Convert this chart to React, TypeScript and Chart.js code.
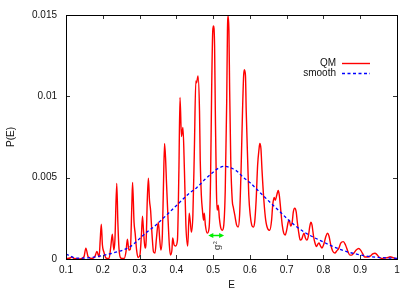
import { useEffect, useRef } from 'react';
import { Chart, registerables } from 'chart.js';

Chart.register(...registerables);

const qmE = [
  0.100, 0.111, 0.116, 0.122, 0.138, 0.149, 0.154, 0.160, 0.171, 0.179, 0.184, 0.190, 0.193, 0.196, 0.199,
  0.203, 0.209, 0.217, 0.222, 0.226, 0.230, 0.233, 0.238, 0.241, 0.244, 0.249, 0.258, 0.263, 0.267, 0.271,
  0.275, 0.279, 0.281, 0.285, 0.288, 0.292, 0.296, 0.301, 0.305, 0.308, 0.311, 0.315, 0.318, 0.321, 0.324,
  0.327, 0.330, 0.334, 0.338, 0.342, 0.346, 0.351, 0.355, 0.358, 0.362, 0.365, 0.368, 0.371, 0.373, 0.377,
  0.381, 0.384, 0.388, 0.390, 0.394, 0.398, 0.403, 0.407, 0.410, 0.414, 0.418, 0.422, 0.426, 0.431, 0.435,
  0.438, 0.441, 0.445, 0.449, 0.453, 0.455, 0.459, 0.463, 0.465, 0.468, 0.471, 0.474, 0.476, 0.479, 0.484,
  0.489, 0.493, 0.496, 0.499, 0.501, 0.504, 0.506, 0.509, 0.511, 0.514, 0.517, 0.521, 0.525, 0.529, 0.533,
  0.537, 0.539, 0.541, 0.543, 0.545, 0.548, 0.552, 0.555, 0.559, 0.564, 0.568, 0.572, 0.576, 0.580, 0.583,
  0.585, 0.588, 0.590, 0.594, 0.597, 0.601, 0.605, 0.609, 0.613, 0.617, 0.621, 0.625, 0.627, 0.630, 0.633,
  0.638, 0.643, 0.649, 0.654, 0.659, 0.662, 0.666, 0.669, 0.673, 0.677, 0.680, 0.684, 0.688, 0.692, 0.696,
  0.700, 0.704, 0.707, 0.711, 0.715, 0.718, 0.722, 0.726, 0.729, 0.733, 0.737, 0.741, 0.747, 0.751, 0.755,
  0.759, 0.763, 0.766, 0.769, 0.773, 0.777, 0.781, 0.785, 0.788, 0.792, 0.796, 0.801, 0.807, 0.811, 0.815,
  0.820, 0.825, 0.831, 0.836, 0.842, 0.847, 0.854, 0.860, 0.867, 0.872, 0.877, 0.883, 0.889, 0.896, 0.901,
  0.907, 0.912, 0.921, 0.929, 0.934, 0.940, 0.945, 0.952, 0.959, 0.967, 0.976, 0.981, 0.988, 0.995, 1.000,
];

const qmP = [
  0.00003, 0.00006, 0.00012, 0.00003, 0.00001, 0.00015, 0.00067, 0.00015, 0.00003, 0.00018, 0.00046, 0.00012, 0.00116, 0.00214, 0.00086,
  0.00043, 0.00006, 0.00003, 0.0008, 0.00153, 0.00055, 0.00116, 0.00465, 0.00226, 0.00067, 0.00006, 0.00003, 0.00043, 0.00122, 0.00055,
  0.00061, 0.0033, 0.00471, 0.00226, 0.00159, 0.00055, 0.00009, 0.00024, 0.00147, 0.00263, 0.00165, 0.00067, 0.00116, 0.00361, 0.00496,
  0.00361, 0.003, 0.00147, 0.00043, 0.00037, 0.00129, 0.00226, 0.00116, 0.00055, 0.00147, 0.00453, 0.0071, 0.00606, 0.00483, 0.00269,
  0.00086, 0.00024, 0.00055, 0.00129, 0.00086, 0.0008, 0.00116, 0.00545, 0.00993, 0.00753, 0.00808, 0.00545, 0.00208, 0.0008, 0.00282,
  0.00226, 0.00165, 0.00269, 0.00667, 0.01095, 0.01083, 0.01126, 0.00912, 0.00606, 0.00392, 0.003, 0.00239, 0.00282, 0.00208, 0.00159,
  0.0019, 0.00483, 0.01034, 0.01401, 0.01432, 0.0131, 0.00912, 0.00422, 0.003, 0.0033, 0.00251, 0.0019, 0.00177, 0.00208, 0.00422,
  0.00973, 0.01401, 0.01493, 0.01401, 0.01034, 0.00606, 0.00361, 0.00318, 0.00269, 0.00208, 0.00196, 0.00269, 0.00545, 0.00912, 0.01126,
  0.01163, 0.01126, 0.00912, 0.00606, 0.00392, 0.00269, 0.00208, 0.00196, 0.00226, 0.00361, 0.00575, 0.00679, 0.0071, 0.00679, 0.00545,
  0.00361, 0.00239, 0.00184, 0.00177, 0.00239, 0.0033, 0.00379, 0.00361, 0.00392, 0.00422, 0.00392, 0.003, 0.00208, 0.00159, 0.00147,
  0.00177, 0.00226, 0.00239, 0.00202, 0.00226, 0.00288, 0.00312, 0.00288, 0.00226, 0.00159, 0.00116, 0.00122, 0.00159, 0.00129, 0.00116,
  0.00141, 0.00202, 0.00226, 0.00208, 0.00141, 0.00098, 0.00077, 0.00092, 0.00098, 0.0008, 0.00067, 0.00092, 0.00141, 0.00159, 0.00141,
  0.00086, 0.00049, 0.00037, 0.00049, 0.00067, 0.00098, 0.00107, 0.00086, 0.00043, 0.00024, 0.00024, 0.00037, 0.00055, 0.00065, 0.00055,
  0.00031, 0.00012, 0.00012, 0.00021, 0.00031, 0.00035, 0.00028, 0.00009, 0.00004, 0.00006, 0.00009, 0.00014, 0.00009, 0.00003, 0.00001,
];

const smoothE = [0.1, 0.13, 0.16, 0.192, 0.233, 0.274, 0.317, 0.34, 0.364, 0.387, 0.41, 0.433, 0.456, 0.478, 0.5, 0.516, 0.532, 0.548, 0.565, 0.581, 0.6, 0.627, 0.654, 0.682, 0.705, 0.727, 0.75, 0.771, 0.795, 0.817, 0.84, 0.863, 0.89, 0.917, 0.955, 1.0];
const smoothP = [0.0003, 0.00005, 0.00007, 0.00018, 0.0004, 0.00075, 0.0016, 0.002, 0.0025, 0.003, 0.0035, 0.004, 0.0044, 0.0049, 0.00534, 0.0056, 0.0057, 0.0056, 0.0054, 0.00504, 0.0047, 0.0041, 0.0035, 0.0029, 0.0024, 0.00198, 0.00162, 0.00136, 0.0011, 0.00086, 0.00064, 0.00045, 0.0003, 0.00018, 0.00009, 0.00004];

const xTicks = [0.1, 0.2, 0.3, 0.4, 0.5, 0.6, 0.7, 0.8, 0.9, 1.0];
const xTickLabels = ['0.1', '0.2', '0.3', '0.4', '0.5', '0.6', '0.7', '0.8', '0.9', '1'];
const yTicks = [0, 0.005, 0.01, 0.015];
const yTickLabels = ['0', '0.005', '0.01', '0.015'];

const seriesNames = ['QM', 'smooth'];
const arrowE = [0.487, 0.53];
const arrowP = 0.00147;
const arrowLabel = 'g²';

const FONT = "'Liberation Sans', Arial, Helvetica, sans-serif";

const framePlugin = {
  id: 'gnuplotFrame',
  afterDatasetsDraw(chart: any) {
    const { ctx, chartArea } = chart;
    const { left, right, top, bottom } = chartArea;
    const xs = chart.scales.x;
    const ys = chart.scales.y;
    ctx.save();
    // green double arrow
    const ax1 = xs.getPixelForValue(arrowE[0]);
    const ax2 = xs.getPixelForValue(arrowE[1]);
    const ay = Math.round(ys.getPixelForValue(arrowP)) + 0.5;
    ctx.strokeStyle = '#00ee00';
    ctx.fillStyle = '#00ee00';
    ctx.lineWidth = 1.5;
    ctx.beginPath();
    ctx.moveTo(ax1 + 2, ay);
    ctx.lineTo(ax2 - 2, ay);
    ctx.stroke();
    ctx.beginPath();
    ctx.moveTo(ax1, ay);
    ctx.lineTo(ax1 + 5, ay - 2.5);
    ctx.lineTo(ax1 + 5, ay + 2.5);
    ctx.closePath();
    ctx.fill();
    ctx.beginPath();
    ctx.moveTo(ax2, ay);
    ctx.lineTo(ax2 - 5, ay - 2.5);
    ctx.lineTo(ax2 - 5, ay + 2.5);
    ctx.closePath();
    ctx.fill();
    // arrow label (rotated)
    ctx.save();
    ctx.translate((ax1 + ax2) / 2 + 1, ay + 10);
    ctx.rotate(-Math.PI / 2);
    ctx.fillStyle = '#333';
    ctx.font = "9px 'DejaVu Serif', serif";
    ctx.textAlign = 'center';
    ctx.textBaseline = 'middle';
    ctx.fillText(arrowLabel, 0, 0);
    ctx.restore();

    // inward ticks
    ctx.strokeStyle = '#333';
    ctx.lineWidth = 1;
    const tl = 4;
    ctx.beginPath();
    xTicks.forEach((v) => {
      const px = Math.round(xs.getPixelForValue(v)) + 0.5;
      ctx.moveTo(px, bottom);
      ctx.lineTo(px, bottom - tl);
      ctx.moveTo(px, top);
      ctx.lineTo(px, top + tl);
    });
    yTicks.forEach((v) => {
      const py = Math.round(ys.getPixelForValue(v)) + 0.5;
      ctx.moveTo(left, py);
      ctx.lineTo(left + tl, py);
      ctx.moveTo(right, py);
      ctx.lineTo(right - tl, py);
    });
    ctx.stroke();
    // border
    ctx.strokeStyle = '#000';
    ctx.lineWidth = 1;
    ctx.strokeRect(Math.round(left) + 0.5, Math.round(top) + 0.5, Math.round(right - left), Math.round(bottom - top));

    // legend
    ctx.font = `10px ${FONT}`;
    ctx.fillStyle = '#111';
    ctx.textAlign = 'right';
    ctx.textBaseline = 'middle';
    const tx = right - 61;
    const lx1 = right - 55;
    const lx2 = right - 27;
    const r1 = top + 48;
    const r2 = top + 58;
    ctx.fillText(seriesNames[0], tx, r1);
    ctx.fillText(seriesNames[1], tx, r2);
    ctx.lineWidth = 1.4;
    ctx.strokeStyle = '#ff0000';
    ctx.beginPath();
    ctx.moveTo(lx1, r1 + 0.5);
    ctx.lineTo(lx2, r1 + 0.5);
    ctx.stroke();
    ctx.strokeStyle = '#0000ff';
    ctx.setLineDash([3, 2.5]);
    ctx.beginPath();
    ctx.moveTo(lx1, r2 + 0.5);
    ctx.lineTo(lx2, r2 + 0.5);
    ctx.stroke();
    ctx.restore();
  },
};

export default function App() {
  const ref = useRef<HTMLCanvasElement | null>(null);

  useEffect(() => {
    if (!ref.current) return;
    const chart = new Chart(ref.current, {
      type: 'line',
      data: {
        datasets: [
          {
            label: seriesNames[0],
            data: qmE.map((e, i) => ({ x: e, y: qmP[i] })),
            borderColor: '#ff0000',
            borderWidth: 1.4,
            pointRadius: 0,
            cubicInterpolationMode: 'monotone',
            fill: false,
            order: 1,
          },
          {
            label: seriesNames[1],
            data: smoothE.map((e, i) => ({ x: e, y: smoothP[i] })),
            borderColor: '#0000ff',
            borderWidth: 1.3,
            borderDash: [3, 2.5],
            pointRadius: 0,
            cubicInterpolationMode: 'monotone',
            fill: false,
            order: 0,
          },
        ],
      },
      options: {
        animation: false,
        responsive: false,
        devicePixelRatio: 1,
        layout: { padding: { top: 14, right: 18, left: 0, bottom: 0 } },
        plugins: { legend: { display: false }, tooltip: { enabled: false } },
        scales: {
          x: {
            type: 'linear',
            min: 0.1,
            max: 1,
            grid: { display: false, drawTicks: false },
            border: { display: false },
            afterBuildTicks: (s: any) => {
              s.ticks = xTicks.map((v) => ({ value: v }));
            },
            afterFit: (s: any) => {
              s.height = 32;
            },
            ticks: {
              autoSkip: false,
              maxRotation: 0,
              padding: 5,
              color: '#111',
              font: { family: FONT, size: 10 },
              callback: (_v: any, i: number) => xTickLabels[i],
            },
            title: {
              display: true,
              text: 'E',
              color: '#111',
              font: { family: FONT, size: 10 },
              padding: { top: 0, bottom: 0 },
            },
          },
          y: {
            type: 'linear',
            min: 0,
            max: 0.015,
            grid: { display: false, drawTicks: false },
            border: { display: false },
            afterBuildTicks: (s: any) => {
              s.ticks = yTicks.map((v) => ({ value: v }));
            },
            afterFit: (s: any) => {
              s.width = 66;
            },
            ticks: {
              autoSkip: false,
              padding: 9,
              color: '#111',
              font: { family: FONT, size: 10 },
              callback: (_v: any, i: number) => yTickLabels[i],
            },
            title: {
              display: true,
              text: 'P(E)',
              color: '#111',
              font: { family: FONT, size: 10 },
              padding: { top: 5, bottom: 0 },
            },
          },
        },
      },
      plugins: [framePlugin],
    } as any);
    return () => chart.destroy();
  }, []);

  return (
    <div style={{ position: 'absolute', left: 0, top: 0, width: 415, height: 291, background: '#fff' }}>
      <canvas ref={ref} width={415} height={291} style={{ display: 'block', width: 415, height: 291 }} />
    </div>
  );
}
